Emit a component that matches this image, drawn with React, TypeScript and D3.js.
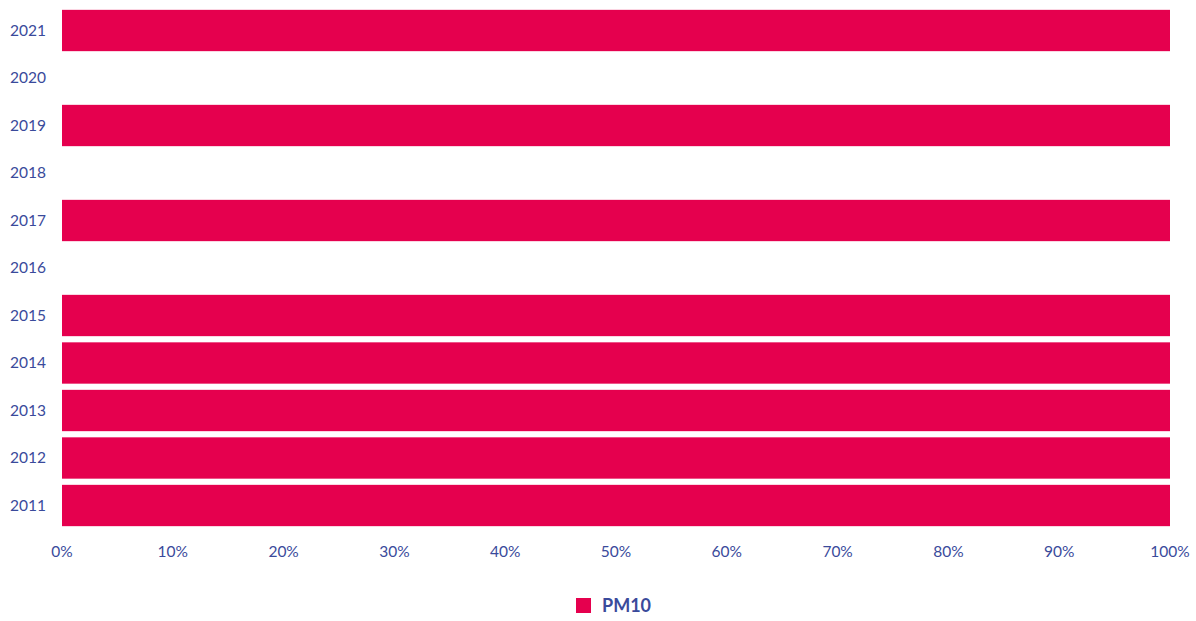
import { useRef, useEffect } from "react";
import * as d3 from "d3";

const years = ["2021", "2020", "2019", "2018", "2017", "2016", "2015", "2014", "2013", "2012", "2011"];
const pm10 = [100, 0, 100, 0, 100, 0, 100, 100, 100, 100, 100];
const xTicks = [0, 10, 20, 30, 40, 50, 60, 70, 80, 90, 100];
const seriesName = "PM10";

const BAR = "#e5004e";
const INK = "#3a4a9b";
const FONT = "Lato, 'Open Sans', sans-serif";

export default function App() {
  const svgRef = useRef<SVGSVGElement>(null);

  useEffect(() => {
    if (!svgRef.current) return;
    const width = 1196;
    const height = 621;
    const svg = d3.select(svgRef.current);
    svg.selectAll("*").remove();
    svg.attr("width", width).attr("height", height).attr("viewBox", `0 0 ${width} ${height}`);

    const xScale = d3.scaleLinear().domain([0, 100]).range([62, 1170]);
    const yScale = d3
      .scaleBand<string>()
      .domain(years)
      .range([6.75, 529.25])
      .paddingInner(0.13)
      .paddingOuter(0.065);

    const data = years.map((y, i) => ({ year: y, value: pm10[i] }));

    // Bars
    svg
      .append("g")
      .selectAll("rect")
      .data(data.filter((d) => d.value > 0))
      .join("rect")
      .attr("x", xScale(0))
      .attr("y", (d) => yScale(d.year)!)
      .attr("width", (d) => xScale(d.value) - xScale(0))
      .attr("height", yScale.bandwidth())
      .attr("fill", BAR);

    // Y labels
    svg
      .append("g")
      .selectAll("text")
      .data(years)
      .join("text")
      .attr("x", 46)
      .attr("y", (d) => yScale(d)! + yScale.bandwidth() / 2)
      .attr("dy", "0.35em")
      .attr("text-anchor", "end")
      .style("font-family", FONT)
      .style("font-size", "15.5px")
      .style("fill", INK)
      .text((d) => d);

    // X labels
    svg
      .append("g")
      .selectAll("text")
      .data(xTicks)
      .join("text")
      .attr("x", (d) => xScale(d))
      .attr("y", 552)
      .attr("dy", "0.35em")
      .attr("text-anchor", "middle")
      .style("font-family", FONT)
      .style("font-size", "15.5px")
      .style("fill", INK)
      .text((d) => `${d}%`);

    // Legend
    const legend = svg.append("g").attr("transform", "translate(576,598)");
    legend.append("rect").attr("width", 15).attr("height", 15).attr("fill", BAR);
    legend
      .append("text")
      .attr("x", 26)
      .attr("y", 8)
      .attr("dy", "0.35em")
      .style("font-family", FONT)
      .style("font-size", "18px")
      .style("font-weight", "bold")
      .style("fill", INK)
      .text(seriesName);
  }, []);

  return <svg ref={svgRef} style={{ display: "block", position: "absolute", left: 0, top: 0 }} />;
}
